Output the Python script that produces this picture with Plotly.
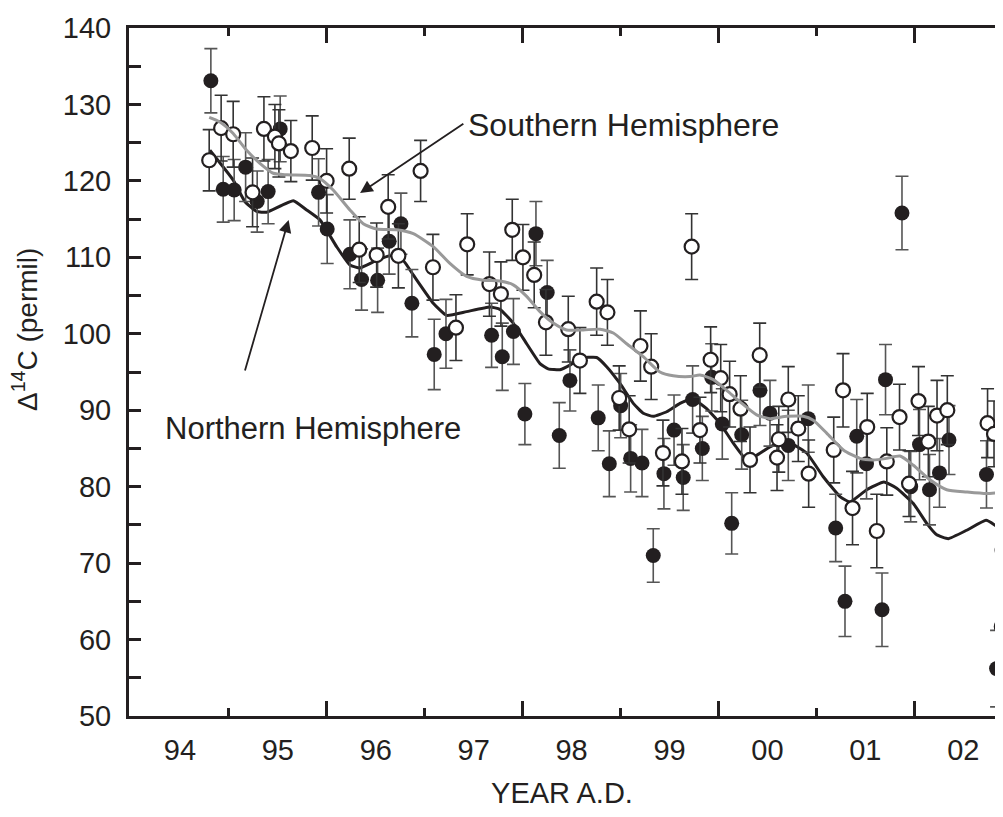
import plotly.graph_objects as go

# Northern Hemisphere measurements (filled circles)
nh_year = [1994.816, 1994.942, 1995.054, 1995.171, 1995.289, 1995.401, 1995.524, 1995.916, 1996.004,
           1996.236, 1996.355, 1996.519, 1996.637, 1996.757, 1996.869, 1997.097, 1997.217, 1997.683,
           1997.792, 1997.906, 1998.023, 1998.136, 1998.251, 1998.374, 1998.483, 1998.772, 1998.885,
           1999.001, 1999.103, 1999.219, 1999.334, 1999.443, 1999.546, 1999.640, 1999.736, 1999.835,
           1999.931, 2000.039, 2000.135, 2000.237, 2000.424, 2000.526, 2000.713, 2000.917, 2001.197,
           2001.292, 2001.412, 2001.512, 2001.670, 2001.706, 2001.874, 2001.963, 2002.053, 2002.155,
           2002.257, 2002.354, 2002.737, 2002.840, 2002.896]
nh_d14c = [133.1, 118.9, 118.8, 121.8, 117.3, 118.6, 126.8, 118.5, 113.7,
           110.4, 107.1, 107.0, 112.1, 114.4, 104.0, 97.3, 100.0, 99.8,
           97.0, 100.3, 89.5, 113.1, 105.4, 86.7, 93.9, 89.0, 83.0,
           90.6, 83.7, 83.1, 71.0, 81.7, 87.4, 81.2, 91.4, 85.0,
           94.3, 88.2, 75.2, 86.8, 92.6, 89.6, 85.4, 88.9, 74.6,
           65.0, 86.6, 83.0, 63.9, 94.0, 115.8, 80.0, 85.5, 79.6,
           81.8, 86.1, 81.6, 56.2, 71.7]
nh_err = [4.2, 4.3, 4.0, 4.5, 4.0, 4.2, 4.3, 4.4, 4.5,
          4.5, 4.0, 4.2, 4.3, 4.0, 4.4, 4.6, 4.5, 4.2,
          4.4, 4.3, 4.0, 4.2, 4.2, 4.3, 4.0, 4.3, 4.3,
          4.2, 4.4, 4.4, 3.5, 4.6, 4.6, 4.3, 4.4, 4.2,
          4.4, 4.6, 4.0, 4.5, 4.6, 4.3, 4.6, 4.4, 4.4,
          4.6, 4.8, 4.6, 4.8, 4.6, 4.8, 4.6, 4.6, 4.6,
          4.5, 4.5, 4.4, 5.0, 4.6]

# Southern Hemisphere measurements (open circles)
sh_year = [1994.799, 1994.921, 1995.044, 1995.242, 1995.358, 1995.470, 1995.511, 1995.633, 1995.851,
           1995.998, 1996.229, 1996.331, 1996.509, 1996.627, 1996.731, 1996.958, 1997.084, 1997.319,
           1997.434, 1997.661, 1997.778, 1997.894, 1998.003, 1998.118, 1998.238, 1998.466, 1998.585,
           1998.756, 1998.866, 1998.986, 1999.088, 1999.203, 1999.313, 1999.433, 1999.627, 1999.726,
           1999.811, 1999.920, 2000.023, 2000.114, 2000.225, 2000.322, 2000.421, 2000.598, 2000.616,
           2000.713, 2000.815, 2000.921, 2001.177, 2001.272, 2001.369, 2001.519, 2001.617, 2001.719,
           2001.849, 2001.946, 2002.043, 2002.143, 2002.232, 2002.337, 2002.748, 2002.814, 2002.894]
sh_d14c = [122.7, 126.9, 126.1, 118.5, 126.8, 125.8, 124.9, 123.9, 124.3,
           120.0, 121.6, 111.0, 110.3, 116.6, 110.2, 121.3, 108.7, 100.8,
           111.7, 106.5, 105.2, 113.6, 110.0, 107.7, 101.5, 100.6, 96.5,
           104.2, 102.8, 91.6, 87.5, 98.4, 95.7, 84.4, 83.3, 111.4,
           87.4, 96.6, 94.2, 92.1, 90.2, 83.5, 97.2, 83.8, 86.2,
           91.4, 87.6, 81.7, 84.8, 92.6, 77.2, 87.8, 74.2, 83.3,
           89.1, 80.4, 91.2, 85.9, 89.3, 90.0, 88.3, 86.9, 61.7]
sh_err = [4.0, 4.3, 4.3, 4.5, 4.2, 4.2, 4.4, 4.0, 4.2,
          4.2, 4.0, 4.3, 4.2, 4.2, 4.2, 4.0, 4.3, 4.3,
          4.0, 4.2, 4.2, 4.0, 4.3, 4.3, 4.3, 4.3, 4.3,
          4.4, 4.3, 4.2, 4.4, 4.6, 4.3, 4.3, 4.3, 4.3,
          4.3, 4.3, 4.4, 4.3, 4.3, 4.3, 4.2, 4.3, 4.3,
          4.3, 4.3, 4.4, 4.3, 4.8, 4.8, 4.4, 4.8, 4.4,
          4.3, 4.3, 4.5, 4.6, 4.6, 4.5, 4.5, 4.3, 4.5]

# Smoothed hemispheric curves
nh_curve_year = [1994.806, 1995.044, 1995.163, 1995.283, 1995.385, 1995.657, 1995.794, 1995.930, 1996.100,
                 1996.236, 1996.338, 1996.509, 1996.645, 1996.780, 1996.883, 1997.087, 1997.224, 1997.428,
                 1997.666, 1997.768, 1997.904, 1998.041, 1998.177, 1998.261, 1998.381, 1998.483, 1998.585,
                 1998.756, 1998.858, 1998.994, 1999.130, 1999.232, 1999.334, 1999.471, 1999.607, 1999.736,
                 1999.879, 2000.015, 2000.151, 2000.288, 2000.390, 2000.526, 2000.628, 2000.764, 2000.901,
                 2001.070, 2001.241, 2001.343, 2001.514, 2001.690, 2001.820, 2001.990, 2002.127, 2002.229,
                 2002.347, 2002.535, 2002.732, 2002.842, 2002.906]
nh_curve = [124.0, 120.1, 117.3, 116.0, 115.9, 117.4, 116.2, 114.9, 111.4,
            109.0, 108.6, 109.6, 110.2, 109.6, 107.7, 104.0, 102.4, 102.9,
            103.5, 103.2, 101.4, 98.7, 96.1, 95.4, 95.3, 95.9, 96.8,
            96.9, 95.7, 93.5, 90.9, 89.6, 89.2, 89.8, 90.9, 91.5,
            90.2, 88.3, 85.7, 83.5, 84.1, 85.2, 85.7, 85.5, 84.4,
            81.3, 78.7, 78.0, 79.6, 80.6, 79.8, 77.8, 75.2, 73.7,
            73.2, 74.3, 75.6, 74.8, 74.1]
sh_curve_year = [1994.799, 1994.908, 1995.044, 1995.181, 1995.317, 1995.453, 1995.589, 1995.827, 1995.930,
                 1996.065, 1996.236, 1996.372, 1996.509, 1996.713, 1996.883, 1997.087, 1997.257, 1997.428,
                 1997.598, 1997.768, 1997.904, 1998.041, 1998.177, 1998.313, 1998.449, 1998.619, 1998.790,
                 1998.926, 1999.062, 1999.232, 1999.402, 1999.538, 1999.709, 1999.811, 1999.947, 2000.084,
                 2000.220, 2000.390, 2000.526, 2000.697, 2000.866, 2000.968, 2001.105, 2001.275, 2001.445,
                 2001.581, 2001.718, 2001.854, 2001.990, 2002.160, 2002.331, 2002.535, 2002.739, 2002.906]
sh_curve = [128.3, 127.7, 126.2, 124.0, 122.3, 121.0, 120.8, 120.7, 120.3,
            118.8, 116.2, 114.4, 113.7, 113.6, 113.1, 111.4, 109.2, 107.5,
            107.0, 106.9, 106.4, 104.9, 102.9, 101.4, 100.5, 100.5, 100.6,
            100.1, 98.7, 97.0, 95.0, 94.5, 94.4, 94.6, 94.0, 92.6,
            91.1, 89.4, 88.9, 89.2, 89.2, 88.7, 87.0, 84.8, 83.7,
            83.5, 83.7, 84.0, 82.8, 80.9, 79.6, 79.3, 79.1, 79.3]

# Axis labels
year_label_pos = [1994.5, 1995.5, 1996.5, 1997.5, 1998.5, 1999.5, 2000.5, 2001.5, 2002.5]
year_labels = ["94", "95", "96", "97", "98", "99", "00", "01", "02"]
major_tick_years = [1996, 1998, 2000, 2002]
minor_tick_years = [1995, 1997, 1999, 2001]

INK = "#231f20"
FONT = "Liberation Sans, Arial, Helvetica, sans-serif"
X_RANGE = [1993.98, 2002.824]
Y_RANGE = [50, 140]

fig = go.Figure()

# gray SH curve is drawn on the label axis (same range) so that axis is rendered
fig.add_trace(go.Scatter(x=sh_curve_year, y=sh_curve, mode="lines", xaxis="x2",
                         line=dict(color="#999999", width=3, shape="spline", smoothing=0.6),
                         hoverinfo="skip", showlegend=False))
fig.add_trace(go.Scatter(x=nh_curve_year, y=nh_curve, mode="lines",
                         line=dict(color=INK, width=3, shape="spline", smoothing=0.4),
                         hoverinfo="skip", showlegend=False))
fig.add_trace(go.Scatter(x=nh_year, y=nh_d14c, mode="markers",
                         error_y=dict(type="data", array=nh_err, color="#555555", thickness=1.6, width=6.5),
                         marker=dict(size=15, color=INK, line=dict(width=0)),
                         showlegend=False, name="Northern Hemisphere"))
fig.add_trace(go.Scatter(x=sh_year, y=sh_d14c, mode="markers",
                         error_y=dict(type="data", array=sh_err, color="#333333", thickness=1.6, width=6.5),
                         marker=dict(size=14, color="white", line=dict(width=2.2, color=INK)),
                         showlegend=False, name="Southern Hemisphere"))

fig.update_layout(
    width=987, height=801, autosize=False,
    margin=dict(l=121, r=0, t=20, b=93),
    paper_bgcolor="white", plot_bgcolor="white",
    font=dict(family=FONT, color=INK),
    xaxis=dict(range=X_RANGE, showgrid=False, zeroline=False, automargin=False,
               showline=True, linewidth=3, linecolor=INK, mirror="ticks",
               tickmode="array", tickvals=major_tick_years, ticks="inside",
               ticklen=15, tickwidth=2.5, tickcolor=INK, showticklabels=False,
               minor=dict(tickmode="array", tickvals=minor_tick_years, ticks="inside",
                          ticklen=8, tickwidth=2.5, tickcolor=INK)),
    xaxis2=dict(range=X_RANGE, overlaying="x", anchor="y", side="bottom", automargin=False,
                showgrid=False, zeroline=False, showline=False,
                tickmode="array", tickvals=year_label_pos, ticktext=year_labels,
                ticks="", tickfont=dict(size=29, color=INK), ticklabelstandoff=14,
                title=dict(text="YEAR A.D.", font=dict(size=29, color=INK), standoff=20)),
    yaxis=dict(range=Y_RANGE, showgrid=False, zeroline=False, automargin=False,
               showline=True, linewidth=3, linecolor=INK,
               tickmode="linear", tick0=50, dtick=10, ticks="inside",
               ticklen=12, tickwidth=2.5, tickcolor=INK,
               tickfont=dict(size=29, color=INK), ticklabelstandoff=9,
               minor=dict(dtick=5, ticks="inside", ticklen=12, tickwidth=2.5, tickcolor=INK)),
    yaxis2=dict(range=Y_RANGE, overlaying="y", anchor="x", side="right", automargin=False,
                showgrid=False, zeroline=False, showline=False,
                tickmode="linear", tick0=60, dtick=10, ticks="inside",
                ticklen=5, tickwidth=2.5, tickcolor=INK, showticklabels=False),
)

# y-axis title (placed above centre as in the original)
fig.add_annotation(x=-0.120, y=100.5, xref="paper", yref="y", xanchor="center", yanchor="middle",
                   text="Δ<sup>14</sup>C (permil)", textangle=-90, showarrow=False,
                   font=dict(size=28, color=INK))

# Arrows and labels
fig.add_annotation(x=1996.34, y=118.4, ax=1997.41, ay=127.6, xref="x", yref="y", axref="x", ayref="y",
                   text="", showarrow=True, arrowhead=2, arrowsize=1.4, arrowwidth=1.8, arrowcolor=INK)
fig.add_annotation(x=1995.61, y=114.9, ax=1995.16, ay=95.0, xref="x", yref="y", axref="x", ayref="y",
                   text="", showarrow=True, arrowhead=2, arrowsize=1.4, arrowwidth=1.8, arrowcolor=INK)
fig.add_annotation(x=1997.42, y=127.3, xref="x", yref="y", xanchor="left", yanchor="middle",
                   text="Southern Hemisphere", showarrow=False, font=dict(size=32, color=INK))
fig.add_annotation(x=1994.33, y=87.6, xref="x", yref="y", xanchor="left", yanchor="middle",
                   text="Northern Hemisphere", showarrow=False, font=dict(size=31, color=INK))

fig.write_html("out.html")
